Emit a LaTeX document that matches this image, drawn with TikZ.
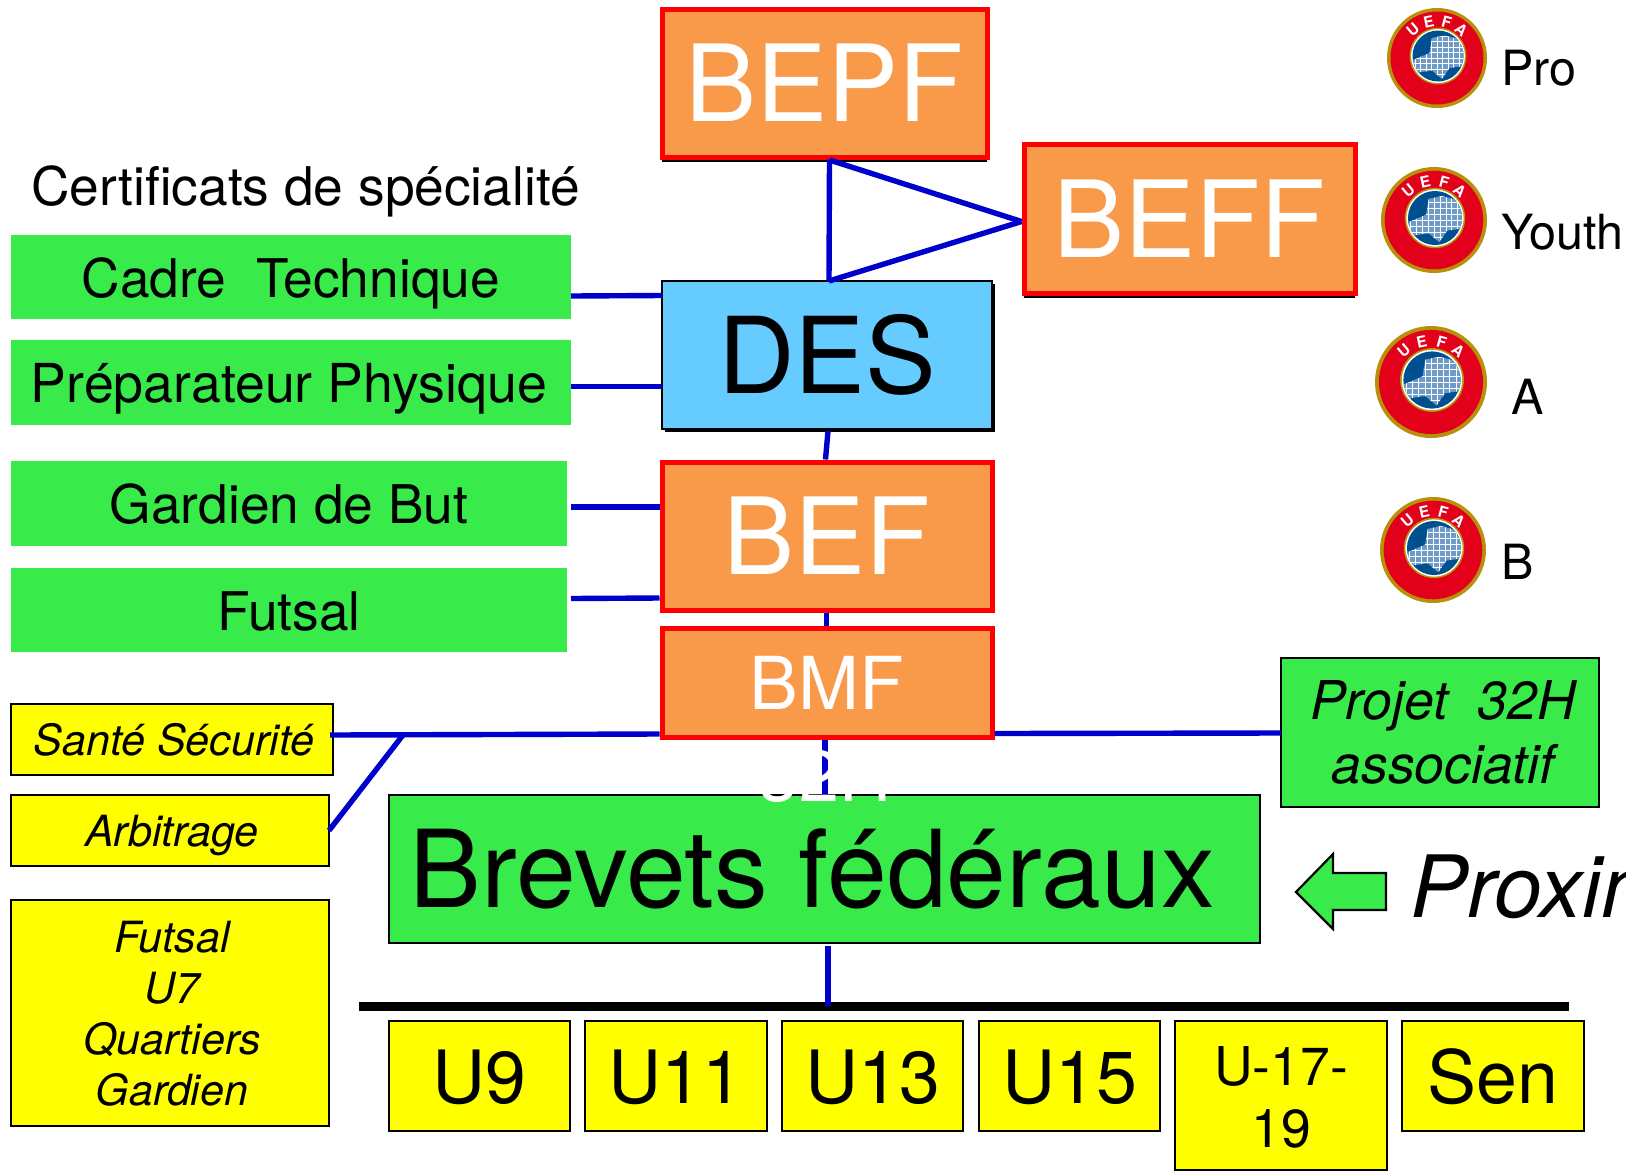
\documentclass[tikz,border=0pt]{standalone}
\usepackage{fontspec}
\setmainfont{TeX Gyre Heros}
\usetikzlibrary{shadows}
\definecolor{orangeb}{HTML}{F99A4B}
\definecolor{greenb}{HTML}{38EB4A}
\definecolor{blueb}{HTML}{66CCFF}
\definecolor{linkb}{HTML}{0000CC}
\definecolor{goldb}{HTML}{B8900A}
\definecolor{redb}{HTML}{E2001A}
\definecolor{globeb}{HTML}{00508F}
\definecolor{landb}{HTML}{6F9BC8}
\definecolor{yellowb}{HTML}{FFFF00}
\newcommand{\fs}[1]{\fontsize{#1}{#1}\selectfont}
% \bx{style}{name}{x0}{y0}{x1}{y1}{text}
\newcommand{\bx}[7]{\node[#1,minimum width={#5-#3},minimum height={#6-#4}] (#2) at ({(#3+#5)/2},{(#4+#6)/2}) {#7};}
\newcommand{\uefalogo}[4]{%
  \fill[goldb] (#2,#3) circle ({#4});
  \fill[redb] (#2,#3) circle ({#4*0.93});
  \fill[goldb] ({#2+1},{#3-2}) circle ({#4*0.57});
  \fill[white] ({#2+1},{#3-2}) circle ({#4*0.54});
  \fill[globeb] ({#2+1},{#3-2}) circle ({#4*0.51});
  \begin{scope}
    \clip ({#2+1},{#3-2}) circle ({#4*0.51});
    \clip ({#2-#4*0.5},{#3+#4*0.05}) -- ({#2-#4*0.15},{#3-#4*0.1}) -- ({#2-#4*0.1},{#3-#4*0.4}) -- ({#2+#4*0.15},{#3-#4*0.45}) -- ({#2+#4*0.55},{#3-#4*0.35}) -- ({#2+#4*0.6},{#3+#4*0.15}) -- ({#2+#4*0.25},{#3+#4*0.2}) -- ({#2+#4*0.1},{#3+#4*0.42}) -- ({#2-#4*0.1},{#3+#4*0.25}) -- ({#2-#4*0.45},{#3+#4*0.3}) -- cycle;
    \fill[landb] ({#2-#4},{#3-#4}) rectangle ({#2+#4},{#3+#4});
    \foreach \g in {-12,-10,...,12} {
      \draw[white,line width=0.45pt] ({#2+\g*#4/18},{#3-#4}) -- ({#2+\g*#4/18},{#3+#4});
      \draw[white,line width=0.45pt] ({#2-#4},{#3+\g*#4/18}) -- ({#2+#4},{#3+\g*#4/18});
    }
  \end{scope}
  \node[ltr,rotate=40] (#1u) at ({#2+0.74*#4*cos(131)},{#3-0.74*#4*sin(131)}) {U};
  \node[ltr,rotate=12] (#1e) at ({#2+0.74*#4*cos(103)},{#3-0.74*#4*sin(103)}) {E};
  \node[ltr,rotate=-15] (#1f) at ({#2+0.74*#4*cos(75)},{#3-0.74*#4*sin(75)}) {F};
  \node[ltr,rotate=-40] (#1a) at ({#2+0.74*#4*cos(49)},{#3-0.74*#4*sin(49)}) {A};
}
\tikzset{
  base/.style={rectangle,inner sep=0pt,outer sep=0pt,align=center},
  dropred/.style={general shadow={fill=black,shadow xshift=0pt,shadow yshift=-4.5pt}},
  dropblue/.style={general shadow={fill=black,shadow xshift=3.2pt,shadow yshift=-3.2pt}},
  orangebox/.style={base,fill=orangeb,draw=red,line width=5pt,text=white,font=\fs{106.5}},
  greenlab/.style={base,fill=greenb,font=\fs{53.3},text height=50pt,text depth=10pt},
  yellowlab/.style={base,fill=yellowb,draw=black,line width=2.6pt,font=\fs{43}\itshape},
  oneline/.style={text height=42pt,text depth=10pt},
  ubox/.style={base,fill=yellowb,draw=black,line width=2.4pt},
  ubig/.style={ubox,font=\fs{73.5},text height=62pt,text depth=7pt},
  link/.style={draw=linkb,line width=5.4pt},
  ltr/.style={inner sep=0pt,outer sep=0pt,text=white,font=\fs{15.5}\bfseries},
  lab/.style={inner sep=0pt,outer sep=0pt,anchor=base west},
}
\begin{document}
\begin{tikzpicture}[x=1pt,y=-1pt]
\useasboundingbox (0,0) rectangle (1626,1171);
\fill[white] (0,0) rectangle (1626,1171);

% boxes
\bx{orangebox,dropred}{bepf}{662}{9}{987}{157}{BEPF}
\bx{orangebox,dropred}{beff}{1024}{144}{1355}{293}{BEFF}
\bx{base,fill=blueb,draw=black,line width=2.8pt,font=\fs{106},dropblue}{des}{662}{281}{992}{429}{DES}
\bx{orangebox}{bef}{662}{462}{992}{610}{BEF}
\bx{orangebox,font=\fs{73}}{bmf}{662}{628}{992}{737}{BMF}

\bx{greenlab}{cadre}{11}{235}{571}{319}{Cadre\ \ Technique}
\bx{greenlab,font=\fs{53.7}}{prepa}{11}{340}{571}{425}{Préparateur Physique\hspace*{4pt}}
\bx{greenlab}{gardien}{11}{461}{567}{546}{Gardien de But}
\bx{greenlab}{futsalg}{11}{568}{567}{652}{Futsal}

\bx{yellowlab,oneline}{sante}{11}{704}{333}{775}{\hspace*{4pt}Santé Sécurité}
\bx{yellowlab,oneline}{arbitrage}{11}{795}{329}{866}{\hspace*{4pt}Arbitrage}
\bx{yellowlab,font=\fontsize{43}{51}\selectfont\itshape}{multi}{11}{900}{329}{1126}{\rule{0pt}{33.5pt}\hspace*{4pt}Futsal\\\hspace*{4pt}U7\\\hspace*{4pt}Quartiers\\\hspace*{4pt}Gardien}

\bx{base,fill=greenb,draw=black,line width=2.2pt,font=\fs{107.5}}{brevets}{389}{795}{1260}{943}{Brevets fédéraux\hspace*{24pt}}
\bx{base,fill=greenb,draw=black,line width=2.2pt,font=\fontsize{53.5}{64}\selectfont\itshape}{projet}{1281}{658}{1599}{807}{\hspace*{6pt}Projet\ \ 32H\\\hspace*{6pt}associatif}

\bx{ubig}{u9}{389}{1021}{570}{1131}{U9}
\bx{ubig}{u11}{585}{1021}{767}{1131}{U11}
\bx{ubig}{u13}{782}{1021}{963}{1131}{U13}
\bx{ubig}{u15}{979}{1021}{1160}{1131}{U15}
\bx{ubox,font=\fontsize{53.5}{62}\selectfont}{u17}{1175}{1021}{1387}{1170}{\rule{0pt}{42pt}U-17-\\19}
\bx{ubig}{sen}{1402}{1021}{1584}{1131}{Sen}

% thick bar
\coordinate (barl) at (359,1006);
\coordinate (barr) at (1569,1006);
\coordinate (barm) at (828,1006);
\draw[black,line width=9pt] (barl) -- (barr);

% connectors
\coordinate (junction) at (403,735);
\draw[link] ([xshift=5pt,yshift=-2.5pt]bepf.south) -- ([xshift=2pt]des.north);
\draw[link] ([xshift=5pt,yshift=-3pt]bepf.south) -- ([xshift=-2.5pt,yshift=-3pt]beff.west);
\draw[link] ([xshift=2pt]des.north) -- ([xshift=-2.5pt,yshift=-3pt]beff.west);
\draw[link] ([yshift=-19pt]cadre.east) -- ([yshift=59.5pt]des.west);
\draw[link] ([yshift=-4pt]prepa.east) -- ([yshift=-31.5pt]des.west);
\draw[link] ([xshift=4pt,yshift=-3.5pt]gardien.east) -- ([xshift=-2.5pt,yshift=29pt]bef.west);
\draw[link] ([xshift=4pt,yshift=11.5pt]futsalg.east) -- ([xshift=-2.5pt,yshift=-62pt]bef.west);
\draw[link] ([xshift=1pt,yshift=-2pt]des.south) -- ([xshift=-1.5pt,yshift=2.5pt]bef.north);
\draw[link] ([xshift=-0.5pt,yshift=-2.5pt]bef.south) -- ([xshift=-0.5pt,yshift=2.5pt]bmf.north);
\draw[link] ([xshift=-2pt,yshift=-2.5pt]bmf.south) -- ([xshift=-2pt]brevets.north -| bmf.south);
\draw[link] ([xshift=-3pt,yshift=4.5pt]sante.east) -- ([xshift=-2.5pt,yshift=-51.5pt]bmf.west);
\draw[link] ([yshift=-35.5pt]arbitrage.north east) -- (junction);
\draw[link] ([xshift=2.5pt,yshift=-51pt]bmf.east) -- ([yshift=-0.5pt]projet.west);
\draw[link] ([xshift=3.5pt,yshift=-3pt]brevets.south) -- (barm);

% white text over the dashed link
\node[base,text=white,font=\fs{72}] (h32) at (825,776) {32H};

% arrow
\draw[fill=greenb,draw=black,line width=2.2pt,line join=miter]
  (1296,892) -- (1333,854) -- (1333,873) -- (1386,873) -- (1386,910) -- (1333,910) -- (1333,929) -- cycle;
\node[lab,font=\fs{86}\itshape] (prox) at (1410,917) {Proximité};

% labels
\node[lab,font=\fs{53.3}] (certif) at (31,205) {Certificats de spécialité};
\node[lab,font=\fs{48.5}] (pro) at (1501,85) {Pro};
\node[lab,font=\fs{48.5}] (youth) at (1501,249.5) {Youth};
\node[lab,font=\fs{48.5}] (a) at (1511,414) {A};
\node[lab,font=\fs{48.5}] (b) at (1501,579) {B};

% logos
\uefalogo{lp}{1437}{58}{50}
\uefalogo{ly}{1434}{220}{53}
\uefalogo{la}{1431}{382}{56}
\uefalogo{lb}{1433}{550}{53}
\end{tikzpicture}
\end{document}
